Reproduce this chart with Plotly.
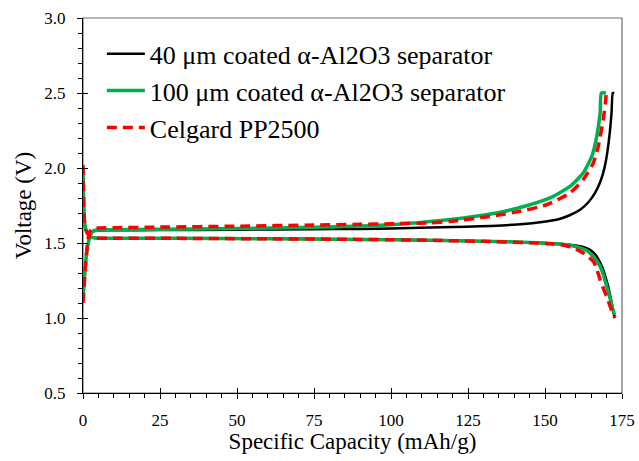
import plotly.graph_objects as go

# Galvanostatic charge/discharge profiles, specific capacity (mAh/g) vs voltage (V)

# 40 um coated alpha-Al2O3 separator
cap_chg_40 = [0, 0.4, 0.9, 1.5, 2.2, 3.0, 4.0, 6, 10, 25, 50, 75, 90, 100, 112.7, 120, 128.9,
              136, 143, 149, 153.8, 158, 161.4, 164, 166.2, 167.8, 168.9, 169.8, 170.5, 171.1,
              171.6, 172.0, 172.5]
v_chg_40 = [1.12, 1.25, 1.38, 1.48, 1.54, 1.572, 1.582, 1.584, 1.585, 1.586, 1.589, 1.592, 1.594,
            1.597, 1.604, 1.607, 1.611, 1.617, 1.626, 1.640, 1.655, 1.685, 1.722, 1.770, 1.833,
            1.900, 1.967, 2.050, 2.144, 2.250, 2.367, 2.500, 2.500]
cap_dis_40 = [0, 0.15, 0.3, 0.5, 0.9, 1.6, 2.5, 4, 10, 30, 60, 90, 112.7, 130, 145.1, 153, 158,
              161.4, 163.5, 164.6, 165.8, 166.8, 167.9, 168.9, 169.7, 170.5, 171.3, 172.1, 172.6]
v_dis_40 = [2.0, 1.85, 1.72, 1.64, 1.59, 1.56, 1.54, 1.533, 1.532, 1.531, 1.528, 1.524, 1.518,
            1.512, 1.504, 1.497, 1.489, 1.478, 1.465, 1.455, 1.435, 1.411, 1.370, 1.322, 1.270,
            1.211, 1.135, 1.055, 1.0]

# 100 um coated alpha-Al2O3 separator
cap_chg_100 = [0, 0.4, 0.9, 1.5, 2.2, 3.0, 4.0, 6, 10, 25, 50, 75, 90, 100, 112.7, 123.5, 134.3,
               145.1, 152.7, 158.1, 162.4, 165.2, 166.8, 167.9, 168.3, 169.8]
v_chg_100 = [1.12, 1.25, 1.38, 1.48, 1.54, 1.575, 1.585, 1.587, 1.588, 1.591, 1.597, 1.605,
             1.613, 1.622, 1.644, 1.667, 1.700, 1.755, 1.811, 1.877, 1.967, 2.077, 2.211,
             2.367, 2.500, 2.500]
cap_dis_100 = [0, 0.15, 0.3, 0.5, 0.9, 1.6, 2.5, 4, 10, 30, 60, 90, 112.7, 130, 145, 153, 158,
               161, 163.5, 165.2, 166.6, 167.9, 168.9, 169.9, 171.0, 172.0, 172.6]
v_dis_100 = [2.0, 1.85, 1.72, 1.64, 1.59, 1.56, 1.54, 1.533, 1.532, 1.531, 1.528, 1.524, 1.518,
             1.512, 1.504, 1.495, 1.485, 1.470, 1.450, 1.420, 1.385, 1.344, 1.290, 1.220,
             1.140, 1.060, 1.020]

# Celgard PP2500
cap_chg_pp = [0, 0.5, 1.0, 1.6, 2.2, 3.0, 5, 10, 25, 50, 75, 90, 100, 112.7, 119.2, 132.1,
              141.9, 150.5, 158.1, 162.4, 165.7, 167.3, 168.9, 169.6, 169.9]
v_chg_pp = [1.10, 1.25, 1.40, 1.52, 1.575, 1.598, 1.600, 1.602, 1.606, 1.612, 1.620, 1.625,
            1.628, 1.635, 1.644, 1.677, 1.711, 1.755, 1.833, 1.922, 2.033, 2.144, 2.322,
            2.430, 2.500]
cap_dis_pp = [0, 0.15, 0.3, 0.5, 0.9, 1.6, 2.5, 4, 10, 30, 60, 90, 112.7, 130, 145, 150, 153,
              156, 159, 162.4, 164.2, 165.7, 166.9, 167.9, 169.0, 170.0, 171.3, 172.7]
v_dis_pp = [2.02, 1.86, 1.72, 1.64, 1.59, 1.56, 1.54, 1.533, 1.532, 1.531, 1.528, 1.524, 1.518,
            1.511, 1.502, 1.497, 1.493, 1.485, 1.470, 1.433, 1.405, 1.378, 1.320, 1.255, 1.195,
            1.144, 1.070, 1.0]

series_names = ["40 \u03bcm coated \u03b1-Al2O3 separator",
                "100 \u03bcm coated \u03b1-Al2O3 separator",
                "Celgard PP2500"]

x_ticks = [0, 25, 50, 75, 100, 125, 150, 175]
y_ticks = [0.5, 1.0, 1.5, 2.0, 2.5, 3.0]

FONT = "Liberation Serif"


def joined(a, b):
    """Charge and discharge branches in one trace, separated by a gap."""
    return list(a) + [None] + list(b)


curves = [
    (cap_chg_40, v_chg_40, cap_dis_40, v_dis_40, dict(color="#000000", width=2.5)),
    (cap_chg_100, v_chg_100, cap_dis_100, v_dis_100, dict(color="#00B050", width=3.5)),
    (cap_chg_pp, v_chg_pp, cap_dis_pp, v_dis_pp, dict(color="#FF0000", width=3.5, dash="10px,6px")),
]

fig = go.Figure()
for i, (name, (xc, yc, xd, yd, line)) in enumerate(zip(series_names, curves)):
    fig.add_trace(go.Scatter(
        x=joined(xc, xd), y=joined(yc, yd), name=name, mode="lines",
        line=dict(shape="spline", smoothing=0.5, **line),
        connectgaps=False, legendgroup=f"g{i}",
    ))

axis_common = dict(
    showgrid=False, zeroline=False, showline=True, linecolor="#000000", linewidth=1.2,
    ticks="outside", ticklen=5, tickwidth=1.2, tickcolor="#000000",
    tickfont=dict(family=FONT, size=17, color="#000000"), automargin=False,
)

fig.update_layout(
    width=639, height=461,
    margin=dict(l=83, r=17, t=18, b=68),
    paper_bgcolor="white", plot_bgcolor="white",
    font=dict(family=FONT, color="#000000"),
    xaxis=dict(
        range=[0, 175], tickvals=x_ticks, ticktext=[str(v) for v in x_ticks],
        minor=dict(dtick=5, tick0=0, ticks="outside", ticklen=4, tickwidth=1, tickcolor="#000000"),
        title=dict(text="Specific Capacity (mAh/g)", font=dict(family=FONT, size=23), standoff=3),
        ticklabelstandoff=6,
        **axis_common,
    ),
    yaxis=dict(
        range=[0.5, 3.0], tickvals=y_ticks, ticktext=[f"{v:.1f}" for v in y_ticks],
        minor=dict(dtick=0.1, tick0=0.5, ticks="outside", ticklen=4, tickwidth=1, tickcolor="#000000"),
        title=dict(text="Voltage (V)", font=dict(family=FONT, size=23), standoff=6),
        ticklabelstandoff=8,
        **axis_common,
    ),
    # second set of axes supplies the inner half of the major ticks
    xaxis2=dict(range=[0, 175], overlaying="x", anchor="y", side="bottom",
                tickvals=x_ticks, ticks="inside", ticklen=5, tickwidth=1.2, tickcolor="#000000",
                showticklabels=False, showline=False, showgrid=False, zeroline=False,
                automargin=False),
    yaxis2=dict(range=[0.5, 3.0], overlaying="y", anchor="x", side="left",
                tickvals=y_ticks, ticks="inside", ticklen=5, tickwidth=1.2, tickcolor="#000000",
                showticklabels=False, showline=False, showgrid=False, zeroline=False,
                automargin=False),
    legend=dict(
        x=0.035, y=0.967, xanchor="left", yanchor="top",
        font=dict(family=FONT, size=26, color="#000000"),
        bgcolor="rgba(0,0,0,0)", borderwidth=0, itemwidth=38,
        tracegroupgap=0,
    ),
    shapes=[dict(type="rect", xref="paper", yref="paper", x0=0, x1=1, y0=0, y1=1,
                 line=dict(color="#6e6e6e", width=1.2), layer="below")],
)

# invisible trace so the overlay axes are laid out
fig.add_trace(go.Scatter(x=[None], y=[None], xaxis="x2", yaxis="y2",
                         showlegend=False, hoverinfo="skip"))

fig.write_html("out.html")
